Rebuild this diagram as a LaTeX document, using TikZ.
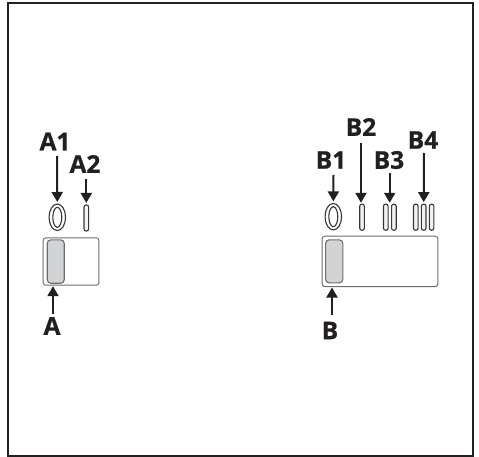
\documentclass[tikz,border=0pt]{standalone}
\usepackage{fontspec}
\setmainfont{Open Sans}
\usetikzlibrary{shapes.geometric,arrows.meta}
\definecolor{ink}{HTML}{231F20}
\definecolor{panelfill}{HTML}{D1D3D4}
\definecolor{edge}{HTML}{6D6E71}
\tikzset{
  x=1pt,y=-1pt,
  frame/.style={draw=ink,line width=2.5pt,fill=white},
  lab/.style={inner sep=0pt,font=\fontsize{24.5}{25}\selectfont\bfseries\addfontfeature{FakeBold=0.6},text=ink},
  panel/.style={draw=edge,line width=1pt,rounded corners=2.5pt,fill=white,inner sep=0pt,anchor=north west},
  slider/.style={draw=edge,line width=1.1pt,rounded corners=3.5pt,fill=panelfill,inner sep=0pt,anchor=north west},
  slot/.style={draw=ink!90,line width=1.1pt,rounded corners=2pt,fill=panelfill!30,inner sep=0pt,minimum width=4.6pt,minimum height=26pt},
  ringo/.style={ellipse,draw=ink!90,line width=1.1pt,fill=white,inner sep=0pt,minimum width=16.5pt,minimum height=26.5pt},
  ringi/.style={ellipse,draw=ink!90,line width=1.1pt,fill=white,inner sep=0pt,minimum width=9pt,minimum height=20pt},
  pointer/.style={draw=ink,line width=2pt,-{Triangle[length=10pt,width=11pt]},shorten >=1.5pt}
}
\begin{document}
\begin{tikzpicture}
\useasboundingbox (0,0) rectangle (479,457);
\fill[white] (0,0) rectangle (479,457);
\path[frame] (8,3) -- (473,3) -- (473,456) -- (8,456) -- cycle;

% Left group
\node[panel,minimum width=55.6pt,minimum height=47.4pt] (A) at (42.7,237.3) {};
\node[slider,minimum width=17pt,minimum height=43.4pt] (As) at (46.7,239.3) {};
\node[ringo] (A1) at (57.3,217.3) {};
\node[ringi] (A1i) at (57.3,217.3) {};
\node[slot] (A2) at (86.3,218) {};
\node[lab] (lA1) at (55,141.5) {A1};
\node[lab] (lA2) at (85,164) {A2};
\node[lab] (lA) at (52,326) {A};
\coordinate (sA1) at (57,156);
\coordinate (sA2) at (86.3,179);
\coordinate (sA) at (53,314);
\coordinate (tA) at (53,284.7);
\draw[pointer] (sA1) -- (A1.north);
\draw[pointer] (sA2) -- (A2.north);
\draw[pointer] (sA) -- (tA);

% Right group
\node[panel,minimum width=115.6pt,minimum height=50.3pt] (B) at (321.7,235.7) {};
\node[slider,minimum width=17.3pt,minimum height=43pt] (Bs) at (325,239.3) {};
\node[ringo] (B1) at (333.3,216.7) {};
\node[ringi] (B1i) at (333.3,216.7) {};
\node[slot] (B2) at (362,217.2) {};
\node[slot] (B3a) at (385.8,217.2) {};
\node[slot] (B3b) at (393.9,217.2) {};
\node[slot] (B4a) at (415.8,217.2) {};
\node[slot] (B4b) at (423.7,217.2) {};
\node[slot] (B4c) at (431.6,217.2) {};
\node[lab] (lB1) at (331,160) {B1};
\node[lab] (lB2) at (361,127) {B2};
\node[lab] (lB3) at (389,160) {B3};
\node[lab] (lB4) at (423,140) {B4};
\node[lab] (lB) at (330,330.5) {B};
\coordinate (sB1) at (333.5,175);
\coordinate (sB2) at (361,143);
\coordinate (tB2) at (361,204.3);
\coordinate (sB3) at (389.7,173);
\coordinate (tB3) at (389.7,204.3);
\coordinate (sB4) at (424,153);
\coordinate (sB) at (332,315);
\coordinate (tB) at (332,286);
\draw[pointer] (sB1) -- (B1.north);
\draw[pointer] (sB2) -- (tB2);
\draw[pointer] (sB3) -- (tB3);
\draw[pointer] (sB4) -- (B4b.north);
\draw[pointer] (sB) -- (tB);
\end{tikzpicture}
\end{document}
